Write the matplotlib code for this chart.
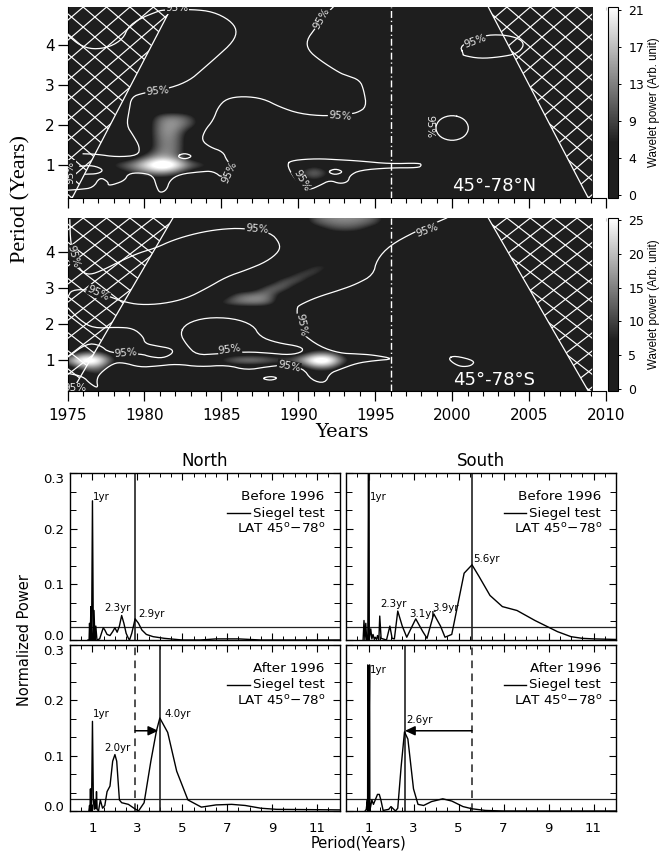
import numpy as np
import matplotlib
matplotlib.use("Agg")
import matplotlib.pyplot as plt
from matplotlib.colors import LinearSegmentedColormap, Normalize
from matplotlib.patches import Polygon, Rectangle
from matplotlib.ticker import FixedLocator, MultipleLocator, NullFormatter

W, H = 662, 852
YEAR_TICKS = [1975, 1980, 1985, 1990, 1995, 2000, 2005, 2010]
PERIOD_TICKS = [1, 2, 3, 4]

# ---- wavelet power: (year, period, value), everything else is 0
north_cell_years = [1978, 1979, 1980, 1981, 1982, 1983, 1984, 1980, 1981, 1982, 1979, 1980, 1981, 1982,
                    1981, 1982, 1981, 1982, 1981, 1982, 1981, 1982, 1983, 1981, 1982, 1983, 1991, 1990, 1992, 1991, 1991]
north_cell_periods = [1.0, 1.0, 1.0, 1.0, 1.0, 1.0, 1.0, 1.2, 1.2, 1.2, 0.8, 0.8, 0.8, 0.8,
                      1.4, 1.4, 1.6, 1.6, 1.8, 1.8, 2.0, 2.0, 2.0, 2.2, 2.2, 2.2, 0.8, 0.8, 0.8, 0.6, 1.0]
north_cell_values = [9, 14, 22, 30, 26, 13, 9, 9, 16, 12, 5, 10, 14, 9,
                     13, 13, 13, 13, 14, 14, 14, 15, 10, 12, 14, 9, 16, 6, 6, 6, 5]

south_cell_years = [1975, 1976, 1977, 1978, 1976, 1977, 1976, 1977, 1977,
                    1989, 1990, 1991, 1992, 1993, 1991, 1992, 1991, 1992,
                    1985, 1986, 1987, 1988,
                    1985, 1986, 1986, 1987, 1987, 1988, 1988, 1988, 1989, 1989, 1990, 1990, 1991, 1991, 1992,
                    1991, 1992, 1993, 1994, 1995, 1991, 1992, 1993, 1994, 1995,
                    1992, 1993, 1994, 1991, 1992, 1993, 1994, 1995]
south_cell_periods = [1.0, 1.0, 1.0, 1.0, 0.8, 0.8, 1.2, 1.2, 0.6,
                      1.0, 1.0, 1.0, 1.0, 1.0, 0.8, 0.8, 1.2, 1.2,
                      1.0, 1.0, 1.0, 1.0,
                      2.6, 2.6, 2.8, 2.6, 2.8, 2.6, 2.8, 3.0, 3.0, 3.2, 3.2, 3.4, 3.4, 3.6, 3.6,
                      4.8, 4.8, 4.8, 4.8, 4.8, 5.0, 5.0, 5.0, 5.0, 5.0,
                      4.6, 4.6, 4.6, 5.2, 5.2, 5.2, 5.2, 5.2]
south_cell_values = [20, 34, 32, 8, 16, 16, 11, 11, 10,
                     11, 18, 34, 34, 11, 15, 15, 12, 12,
                     11, 18, 20, 16,
                     11, 15, 13, 17, 16, 15, 16, 14, 15, 13, 13, 11, 12, 10, 10,
                     11, 14, 15, 14, 11, 13, 16, 17, 16, 13,
                     8, 10, 8, 13, 16, 17, 16, 13]

# ---- 95% significance contours (year, period)
n_a_x = [1975.04, 1975.8, 1976.67, 1977.75, 1978.62, 1978.94, 1979.7, 1980.79, 1981.22, 1983.17, 1984.47, 1985.55, 1986.03, 1985.77, 1984.69, 1983.71, 1982.95, 1981.76, 1979.92, 1979.16, 1979.01, 1978.84, 1979.27, 1979.7, 1979.59, 1978.19, 1976.89, 1976.02]
n_a_y = [4.24, 3.99, 3.89, 3.95, 4.16, 4.45, 4.66, 4.83, 4.88, 4.89, 4.83, 4.62, 4.37, 4.08, 3.70, 3.37, 3.12, 2.93, 2.8, 2.70, 2.37, 1.99, 1.74, 1.45, 1.24, 1.20, 1.27, 1.28]
n_b_x = [1975.04, 1975.8, 1976.67, 1977.1, 1977.64, 1977.64, 1978.08, 1978.73, 1978.94, 1979.7, 1980.57, 1980.79, 1981.0, 1981.44, 1981.65, 1982.3, 1983.6, 1984.47, 1985.12, 1985.77, 1985.34, 1985.12, 1984.25, 1983.71, 1983.93, 1984.47, 1984.79, 1985.34, 1986.42, 1987.72, 1988.8, 1990.1, 1991.84, 1993.24, 1993.79, 1994.44, 1994.26, 1994.0, 1993.14, 1992.7, 1991.4, 1990.64, 1990.54, 1991.08, 1991.95, 1992.27]
n_b_y = [0.37, 0.39, 0.43, 0.70, 0.58, 0.49, 0.52, 0.62, 0.78, 0.81, 0.74, 0.45, 0.30, 0.37, 0.62, 0.77, 0.83, 0.85, 0.66, 0.95, 1.12, 1.33, 1.45, 1.62, 1.87, 2.12, 2.45, 2.66, 2.72, 2.66, 2.45, 2.28, 2.22, 2.28, 2.30, 2.45, 2.87, 3.12, 3.24, 3.30, 3.62, 3.87, 4.12, 4.41, 4.83, 4.95]
n_c_x = [1975.8, 1976.67, 1977.36, 1976.99, 1976.13]
n_c_y = [0.97, 0.99, 0.88, 0.78, 0.77]
n_d_x = [1989.24, 1989.67, 1991.19, 1992.7, 1994.0, 1995.95, 1997.9, 1998.01, 1997.8, 1995.95, 1994.0, 1993.35, 1993.24, 1992.7, 1992.05, 1991.4, 1990.75, 1990.32, 1989.67, 1989.24]
n_d_y = [1.03, 1.12, 1.16, 1.13, 1.10, 1.03, 1.05, 0.99, 0.93, 0.93, 0.87, 0.74, 0.58, 0.53, 0.62, 0.49, 0.38, 0.45, 0.70, 1.03]
n_e_x = [1982.1, 1982.6, 1983.15, 1982.6, 1982.1]
n_e_y = [1.22, 1.30, 1.22, 1.14, 1.22]
n_f_x = [1991.9, 1992.4, 1992.95, 1992.4, 1991.9]
n_f_y = [0.83, 0.91, 0.83, 0.75, 0.83]
n_g_x = [2000.72, 2000.5, 2002.0, 2003.3, 2004.4, 2004.7, 2004.2, 2003.1, 2001.8, 2000.7, 2000.72]
n_g_y = [3.78, 3.99, 4.24, 4.26, 4.16, 3.99, 3.78, 3.70, 3.66, 3.74, 3.78]
n_h_x = [2000.0, 2000.8, 2001.13, 2000.8, 2000.0, 1999.2, 1998.87, 1999.2, 2000.0]
n_h_y = [2.255, 2.16, 1.925, 1.69, 1.595, 1.69, 1.925, 2.16, 2.255]

s_a_x = [1975.15, 1975.2, 1975.48, 1975.91, 1976.45, 1977.32, 1978.62, 1979.7, 1980.68, 1981.87, 1983.39, 1984.9, 1986.42, 1988.2, 1988.8, 1988.76, 1987.94, 1986.64, 1985.34, 1984.04, 1982.74, 1981.22, 1979.7, 1978.62, 1977.86, 1976.34, 1975.26, 1975.04]
s_a_y = [4.89, 4.24, 3.78, 3.45, 3.36, 3.5, 3.78, 3.98, 4.10, 4.33, 4.52, 4.63, 4.66, 4.54, 4.24, 4.01, 3.73, 3.5, 3.31, 2.99, 2.71, 2.56, 2.53, 2.62, 2.74, 2.96, 2.94, 2.76]
s_b_x = [1975.04, 1975.8, 1976.67, 1978.19, 1979.27, 1979.92, 1980.03, 1980.79, 1981.76, 1981.87, 1981.22, 1980.35, 1979.81, 1977.75, 1977.1, 1976.24, 1975.04]
s_b_y = [2.44, 2.11, 1.88, 1.91, 1.88, 1.65, 1.46, 1.39, 1.32, 1.19, 1.05, 1.09, 1.17, 1.19, 1.42, 1.46, 1.09]
s_c_x = [1975.04, 1976.02, 1976.45, 1976.99, 1976.89, 1977.1, 1977.97, 1978.62, 1979.7, 1980.79, 1982.09, 1983.6, 1985.34, 1986.64, 1987.94, 1989.02, 1990.3, 1990.86, 1991.73, 1992.05, 1992.7, 1993.79, 1994.87, 1996.28, 1994.87, 1993.79, 1992.7, 1991.4, 1990.21, 1990.0, 1989.89, 1990.1, 1991.19, 1992.7, 1993.79, 1994.87, 1995.1, 1995.95, 1997.58, 1999.64]
s_c_y = [0.63, 0.54, 0.35, 0.21, 0.44, 0.63, 0.91, 0.93, 0.80, 0.83, 0.89, 0.81, 0.86, 0.72, 0.81, 0.86, 0.78, 0.44, 0.35, 0.63, 0.74, 0.91, 0.98, 1.03, 1.14, 1.17, 1.19, 1.37, 1.74, 1.97, 2.44, 2.53, 2.74, 2.94, 3.11, 3.36, 3.78, 4.18, 4.56, 4.94]
s_d_x = [1982.3, 1982.74, 1984.04, 1985.77, 1987.07, 1987.5, 1988.59, 1990.21, 1990.32, 1989.45, 1988.15, 1986.64, 1984.69, 1983.39, 1982.74, 1982.3]
s_d_y = [1.74, 2.02, 2.18, 2.16, 1.97, 1.65, 1.48, 1.37, 1.23, 1.14, 1.19, 1.23, 1.17, 1.14, 1.42, 1.74]
s_e_x = [1987.6, 1988.2, 1988.7, 1988.2, 1987.6]
s_e_y = [0.49, 0.55, 0.50, 0.43, 0.49]
s_f_x = [1999.75, 2000.18, 2001.48, 2001.26, 2000.6, 2000.07, 1999.75]
s_f_y = [1.05, 1.12, 0.98, 0.84, 0.81, 0.91, 1.05]

n_label_x = [1982.1, 1980.83, 1992.7, 1991.5, 1985.55, 1990.2, 1975.2, 2001.5, 1998.55]
n_label_y = [4.92, 2.85, 2.22, 4.66, 0.83, 0.62, 0.82, 4.10, 1.95]
n_label_rot = [0, 5, -5, 60, 65, -60, 90, 20, 270]
s_label_x = [1987.3, 1977.0, 1975.4, 1978.8, 1985.55, 1989.4, 1990.2, 1998.4, 1975.5]
s_label_y = [4.63, 2.85, 3.87, 1.19, 1.28, 0.83, 1.97, 4.60, 0.22]
s_label_rot = [-5, -25, -75, 5, 8, -12, -80, 20, 0]

north_bar_ticks = [0, 4.2, 8.4, 12.6, 16.8, 21]
north_bar_labels = ["0", "4", "9", "13", "17", "21"]
south_bar_ticks = [0, 5, 10, 15, 20, 25]
south_bar_labels = ["0", "5", "10", "15", "20", "25"]

# ---- periodograms
nb_x = [0.80, 0.85, 0.87, 0.90, 0.93, 0.96, 1.00, 1.04, 1.07, 1.11, 1.15, 1.20, 1.32, 1.40, 1.48, 1.55, 1.65, 1.78, 1.90, 2.00, 2.10, 2.20, 2.30, 2.40, 2.50, 2.60, 2.65, 2.75, 2.90, 3.05, 3.20, 3.40, 3.70, 4.20, 5.00, 5.80, 6.50, 7.50, 8.50, 12.0]
nb_y = [0.0, 0.0, 0.03, 0.0, 0.06, 0.0, 0.25, 0.0, 0.053, 0.0, 0.025, 0.0, 0.002, 0.012, 0.022, 0.018, 0.010, 0.008, 0.015, 0.022, 0.014, 0.025, 0.044, 0.030, 0.012, 0.003, 0.0, 0.012, 0.038, 0.030, 0.018, 0.010, 0.006, 0.003, 0.0, 0.0, 0.002, 0.002, 0.0, 0.0]
sb_x = [0.76, 0.80, 0.84, 0.88, 0.92, 0.97, 1.00, 1.03, 1.10, 1.15, 1.20, 1.26, 1.30, 1.36, 1.40, 1.46, 1.50, 1.56, 1.80, 1.95, 2.05, 2.15, 2.30, 2.50, 2.70, 3.10, 3.40, 3.60, 3.90, 4.20, 4.40, 4.70, 5.25, 5.60, 5.90, 6.40, 6.95, 7.60, 8.40, 9.00, 9.40, 10.0, 10.5, 11.0, 12.0]
sb_y = [0.0, 0.035, 0.0, 0.03, 0.0, 0.0, 0.32, 0.0, 0.02, 0.002, 0.01, 0.001, 0.005, 0.001, 0.008, 0.0, 0.043, 0.003, 0.0, 0.025, 0.003, 0.002, 0.052, 0.025, 0.005, 0.038, 0.016, 0.003, 0.047, 0.025, 0.005, 0.010, 0.12, 0.135, 0.115, 0.08, 0.06, 0.053, 0.035, 0.023, 0.015, 0.006, 0.003, 0.002, 0.001]
na_x = [0.84, 0.87, 0.89, 0.91, 0.93, 0.96, 1.00, 1.04, 1.08, 1.11, 1.15, 1.18, 1.21, 1.27, 1.35, 1.45, 1.55, 1.65, 1.78, 1.90, 2.00, 2.08, 2.20, 2.30, 2.60, 2.85, 3.05, 3.30, 3.60, 3.85, 4.00, 4.35, 4.75, 5.25, 5.85, 6.50, 7.20, 7.80, 8.50, 9.20, 12.0]
na_y = [0.0, 0.01, 0.0, 0.04, 0.0, 0.01, 0.162, 0.02, 0.003, 0.02, 0.004, 0.035, 0.003, 0.0, 0.02, 0.005, 0.01, 0.035, 0.045, 0.09, 0.102, 0.09, 0.02, 0.015, 0.012, 0.005, 0.0, 0.015, 0.09, 0.145, 0.168, 0.142, 0.072, 0.02, 0.007, 0.011, 0.012, 0.01, 0.005, 0.003, 0.002]
sa_x = [0.85, 0.90, 0.95, 0.96, 0.97, 1.00, 1.05, 1.06, 1.08, 1.15, 1.22, 1.30, 1.40, 1.48, 1.55, 1.65, 1.90, 2.00, 2.20, 2.30, 2.45, 2.60, 2.75, 3.00, 3.20, 3.45, 3.80, 4.30, 4.70, 5.20, 5.60, 6.20, 7.00, 12.0]
sa_y = [0.0, 0.003, 0.02, 0.0, 0.264, 0.0, 0.264, 0.0, 0.005, 0.02, 0.012, 0.02, 0.03, 0.03, 0.02, 0.001, 0.003, 0.008, 0.0, 0.005, 0.08, 0.143, 0.13, 0.04, 0.012, 0.01, 0.017, 0.022, 0.018, 0.008, 0.004, 0.001, 0.0, 0.0]

siegel_levels = [0.0233, 0.0233, 0.0216, 0.0216]
solid_marks = [[2.9], [1.0, 5.6], [4.0], [2.6]]
dashed_marks = [[], [], [2.9], [5.6]]
arrows = [None, None, (2.9, 3.93, 0.145), (5.6, 2.62, 0.145)]
peak_text = [
    [("1yr", 1.03, 0.256), ("2.3yr", 1.55, 0.057), ("2.9yr", 3.04, 0.046)],
    [("1yr", 1.05, 0.256), ("2.3yr", 1.53, 0.064), ("3.1yr", 2.81, 0.047), ("3.9yr", 3.85, 0.057), ("5.6yr", 5.67, 0.146)],
    [("1yr", 1.04, 0.175), ("2.0yr", 1.55, 0.114), ("4.0yr", 4.22, 0.176)],
    [("1yr", 1.05, 0.255), ("2.6yr", 2.67, 0.165)],
]
legend_first = ["Before 1996", "Before 1996", "After 1996", "After 1996"]

DARK = "#1e1e1e"


def axpx(fig, left, top, right, bottom):
    return fig.add_axes([left / W, 1 - bottom / H, (right - left) / W, (bottom - top) / H])


def smooth(xs, ys, n=2):
    """Corner cutting only, to round the traced polyline."""
    p = np.column_stack([xs, ys])
    for _ in range(n):
        q = np.empty((2 * len(p), 2))
        q[0::2] = 0.75 * p + 0.25 * np.roll(p, -1, axis=0)
        q[1::2] = 0.25 * p + 0.75 * np.roll(p, -1, axis=0)
        p = np.vstack([p[0], q[:-2], p[-1]]) if not np.allclose(p[0], p[-1]) else np.vstack([q[:-2], q[0]])
    return p[:, 0], p[:, 1]


def wavelet(ax, cax, cyears, cperiods, cvals, vmax, contours, lx, ly, lrot, ymin, ymax,
            left_cone, right_cone, title, bar_ticks, bar_labels, show_x):
    years = np.arange(1974, 2011)
    periods = np.arange(0, 27) * 0.2
    grid = np.zeros((len(periods), len(years)))
    for y, p, v in zip(cyears, cperiods, cvals):
        grid[int(round(p / 0.2)), y - 1974] = v
    pad = 0.014 * vmax
    cmap = LinearSegmentedColormap.from_list("w", [(0, DARK), (0.29, DARK), (1, "#ffffff")])
    norm = Normalize(-pad, vmax + pad)
    im = ax.imshow(grid, origin="lower", extent=(1973.5, 2010.5, -0.1, 5.3), aspect="auto",
                   cmap=cmap, norm=norm, interpolation="bicubic", zorder=1)
    im.set_clip_path(Rectangle((1975, ymin), 34.1, ymax - ymin, transform=ax.transData))
    ax.set_xlim(1975, 2010)
    ax.set_ylim(ymin, ymax)

    for base, cone, x0 in ((1976.02, left_cone, 1975), (2003.56, right_cone, 2009.1)):
        poly = Polygon([(x0, ymin), (cone[0][0], ymin), (cone[1][0], ymax), (x0, ymax)],
                       closed=True, transform=ax.transData, fill=False, ec="none")
        ax.add_patch(poly)
        for k in range(-14, 15):
            yk = base + 1.52 * k
            xs = np.array([yk - 16, yk + 16])
            for sign in (1, -1):
                ln, = ax.plot(xs, ymax + sign * 0.33 * (xs - yk), color="white", lw=0.85, zorder=3)
                ln.set_clip_path(poly)
        ax.plot([cone[0][0], cone[1][0]], [ymin, ymax], color="white", lw=0.9, zorder=3)

    for cx, cy in contours:
        sx, sy = smooth(cx, cy)
        ax.plot(sx, sy, color="white", lw=0.9, zorder=4)
    for x, y, r in zip(lx, ly, lrot):
        ax.text(x, y, "95%", color="#e8e8e8", fontsize=7.5, rotation=r, ha="center", va="center",
                rotation_mode="anchor", zorder=5, clip_on=True,
                bbox=dict(fc=DARK, ec="none", pad=0.3))
    ax.axvline(1996, color="white", lw=1, ls=(0, (5, 2, 1, 2)), zorder=5)

    for s in ("top", "right"):
        ax.spines[s].set_visible(False)
    ax.xaxis.set_major_locator(FixedLocator(YEAR_TICKS))
    ax.xaxis.set_minor_locator(MultipleLocator(1))
    ax.set_yticks(PERIOD_TICKS)
    ax.tick_params(axis="x", which="major", direction="out", length=7.5, width=0.9, labelsize=11, pad=5,
                   labelbottom=show_x)
    ax.tick_params(axis="x", which="minor", direction="out", length=3.6, width=0.8)
    ax.tick_params(axis="y", direction="out", length=7, width=0.9, labelsize=11, pad=2)
    top = ax.secondary_xaxis("top")
    top.xaxis.set_major_locator(MultipleLocator(1))
    top.tick_params(direction="in", length=1.8, width=0.8, color="#cccccc", labeltop=False)
    top.spines["top"].set_visible(False)

    ax.text(2002.7, ymin + (ymax - ymin) * 0.065, title, color="white", fontsize=13,
            ha="center", va="center", zorder=6)

    cb = ax.figure.colorbar(im, cax=cax)
    cb.set_ticks(bar_ticks)
    cb.set_ticklabels(bar_labels)
    cb.ax.minorticks_off()
    cb.ax.tick_params(length=2.5, width=0.7, labelsize=9, pad=5)
    cb.outline.set_linewidth(0.8)
    cb.set_label("Wavelet power (Arb. unit)", family="Liberation Sans", fontsize=8.3)
    cb.ax.yaxis.set_label_coords(4.05, 0.5)


def spectrum(ax, x, y, i):
    ax.plot(x, y, color="black", lw=1.0, zorder=3)
    ax.axhline(siegel_levels[i], color="#222222", lw=0.9)
    for m in solid_marks[i]:
        ax.axvline(m, color="#222222", lw=1.2)
    for m in dashed_marks[i]:
        ax.axvline(m, color="#222222", lw=1.1, ls=(0, (5, 3.5)))
    if arrows[i]:
        a, b, lvl = arrows[i]
        ax.annotate("", xy=(b, lvl), xytext=(a, lvl),
                    arrowprops=dict(arrowstyle="-|>,head_length=0.6,head_width=0.28", color="black", lw=1.1,
                                    shrinkA=0, shrinkB=0))
    for t, tx, ty in peak_text[i]:
        ax.text(tx, ty, t, fontsize=7.4, family="DejaVu Sans", ha="left", va="center")
    ax.text(11.33, 0.258, legend_first[i], fontsize=9.7, ha="right", va="center")
    ax.text(11.33, 0.228, "Siegel test", fontsize=9.7, ha="right", va="center")
    ax.text(11.4, 0.199, "LAT 45$^{\\mathsf{o}}$\u221278$^{\\mathsf{o}}$", fontsize=9.7, ha="right", va="center")
    ax.plot([7.0, 8.0], [0.228, 0.228], color="black", lw=1.0)
    ax.set_xlim(0, 12)
    ax.set_ylim(0, 0.3)
    ax.xaxis.set_major_locator(FixedLocator([1, 3, 5, 7, 9, 11]))
    ax.xaxis.set_minor_locator(FixedLocator([0.5, 1.5, 2, 2.5, 3.5, 4, 4.5, 5.5, 6, 6.5, 7.5, 8, 8.5, 9.5, 10, 10.5, 11.5]))
    ax.yaxis.set_major_locator(FixedLocator([0, 0.1, 0.2, 0.3]))
    ax.yaxis.set_minor_locator(MultipleLocator(0.1 / 3))
    ax.yaxis.set_major_formatter(plt.FormatStrFormatter("%.1f"))
    ax.xaxis.set_minor_formatter(NullFormatter())
    ax.tick_params(which="major", direction="in", top=True, right=True, length=5, width=0.8,
                   labelsize=9.5)
    ax.tick_params(axis="x", which="major", pad=8)
    ax.tick_params(axis="y", which="major", pad=4)
    ax.tick_params(which="minor", direction="in", top=True, right=True, length=2.5, width=0.7)
    ax.tick_params(axis="x", which="minor", length=3.2)
    ax.tick_params(axis="y", which="minor", length=4)
    ax.figure.canvas.draw()
    labels = ax.get_yticklabels()
    labels[0].set_verticalalignment("baseline")
    labels[-1].set_verticalalignment("top")
    for s in ax.spines.values():
        s.set_linewidth(1.0)


fig = plt.figure(figsize=(W / 100, H / 100), dpi=100)

a1 = axpx(fig, 67.5, 7, 606, 198)
c1 = axpx(fig, 608, 7, 618, 198)
wavelet(a1, c1, north_cell_years, north_cell_periods, north_cell_values, 21,
        [(n_a_x, n_a_y), (n_b_x, n_b_y), (n_c_x, n_c_y), (n_d_x, n_d_y), (n_e_x, n_e_y),
         (n_f_x, n_f_y), (n_g_x, n_g_y), (n_h_x, n_h_y)],
        n_label_x, n_label_y, n_label_rot, 0.175, 4.95,
        [(1975.3, 0.175), (1981.77, 4.95)], [(2008.85, 0.175), (2002.35, 4.95)],
        "45\u00b0-78\u00b0N", north_bar_ticks, north_bar_labels, False)

a2 = axpx(fig, 67.5, 218, 606, 391)
c2 = axpx(fig, 608, 218, 618, 391)
wavelet(a2, c2, south_cell_years, south_cell_periods, south_cell_values, 25,
        [(s_a_x, s_a_y), (s_b_x, s_b_y), (s_c_x, s_c_y), (s_d_x, s_d_y), (s_e_x, s_e_y), (s_f_x, s_f_y)],
        s_label_x, s_label_y, s_label_rot, 0.14, 4.94,
        [(1975.3, 0.14), (1981.85, 4.94)], [(2008.85, 0.14), (2002.35, 4.94)],
        "45\u00b0-78\u00b0S", south_bar_ticks, south_bar_labels, True)

fig.text(21 / W, 1 - 199 / H, "Period (Years)", rotation=90, family="Liberation Serif", fontsize=16,
         ha="center", va="center")
fig.text(342 / W, 1 - 432 / H, "Years", family="DejaVu Serif", fontsize=14, ha="center", va="center")

ax_nb = axpx(fig, 70, 473, 339.5, 640)
ax_sb = axpx(fig, 346, 473, 616, 640)
ax_na = axpx(fig, 70, 645, 339.5, 811)
ax_sa = axpx(fig, 346, 645, 616, 811)
spectrum(ax_nb, nb_x, nb_y, 0)
spectrum(ax_sb, sb_x, sb_y, 1)
spectrum(ax_na, na_x, na_y, 2)
spectrum(ax_sa, sa_x, sa_y, 3)
ax_nb.tick_params(labelbottom=False)
ax_sb.tick_params(labelbottom=False, labelleft=False)
ax_sa.tick_params(labelleft=False)
ax_nb.set_title("North", fontsize=12, pad=5)
ax_sb.set_title("South", fontsize=12, pad=5)
fig.text(25 / W, 1 - 640 / H, "Normalized Power", rotation=90, fontsize=10.5, ha="center", va="center")
fig.text(358 / W, 1 - 843 / H, "Period(Years)", fontsize=10.5, ha="center", va="center")

fig.savefig("out.png", dpi=100)
